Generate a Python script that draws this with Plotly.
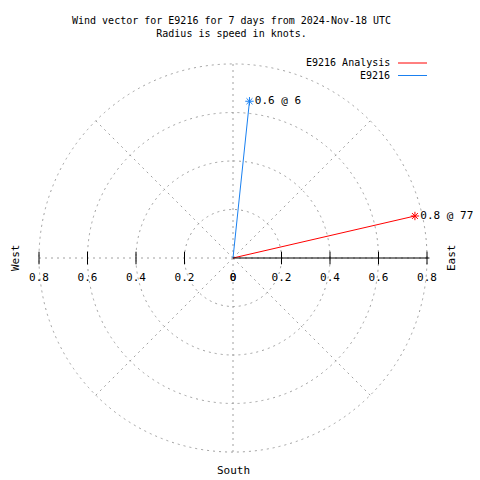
import plotly.graph_objects as go

# Data
series_names = ["E9216 Analysis", "E9216"]
speeds = [0.77, 0.65]          # knots
directions = [77, 6]           # degrees (compass, clockwise from north)
point_labels = ["0.8 @ 77", "0.6 @ 6"]
colors = ["#ff0000", "#1a80f0"]

radial_ticks = [0, 0.2, 0.4, 0.6, 0.8]
radial_tick_labels = ["0", "0.2", "0.4", "0.6", "0.8"]
r_max = 0.81

FONT = "DejaVu Sans Mono"
FS = 10
cx, cy = 233, 258
R = 194 * r_max / 0.8
W = H = 480

fig = go.Figure()

# vectors
for name, s, d, lab, c in zip(series_names, speeds, directions, point_labels, colors):
    fig.add_trace(go.Scatterpolar(
        r=[0, s], theta=[d, d], mode="lines", line=dict(color=c, width=1),
        name=name, showlegend=False, hoverinfo="skip"))
    fig.add_trace(go.Scatterpolar(
        r=[s], theta=[d], mode="markers+text", text=[lab],
        textposition="middle right",
        textfont=dict(family=FONT, size=FS + 1, color="black"),
        marker=dict(symbol="asterisk-open", size=7, color=c, line=dict(color=c, width=1)),
        showlegend=False, hoverinfo="skip"))

# tick marks east and west
tick_r = radial_ticks[1:]
for th in (90, 270):
    fig.add_trace(go.Scatterpolar(
        r=tick_r, theta=[th] * len(tick_r), mode="markers",
        marker=dict(symbol="line-ns-open", size=9, color="black", line=dict(color="black", width=1)),
        showlegend=False, hoverinfo="skip"))

# tick labels east and west
for th in (90, 270):
    fig.add_trace(go.Scatterpolar(
        r=radial_ticks, theta=[th] * len(radial_ticks), mode="text",
        text=["<br>" + t for t in radial_tick_labels], textposition="bottom center",
        textfont=dict(family=FONT, size=FS + 1, color="black"),
        showlegend=False, hoverinfo="skip"))

grid = dict(gridcolor="#a0a0a0", griddash="2px,4px", gridwidth=1)
fig.update_layout(
    width=W, height=H,
    margin=dict(l=0, r=0, t=0, b=0),
    paper_bgcolor="white", plot_bgcolor="white",
    showlegend=False,
    polar=dict(
        domain=dict(x=[(cx - R) / W, (cx + R) / W], y=[1 - (cy + R) / H, 1 - (cy - R) / H]),
        bgcolor="white",
        radialaxis=dict(range=[0, r_max], tickvals=[0.2, 0.4, 0.6, 0.8], showticklabels=False,
                        ticks="", showline=True, linecolor="black", linewidth=1, angle=0,
                        **grid),
        angularaxis=dict(rotation=90, direction="clockwise", tickvals=[0, 45, 90, 135, 180, 225, 270, 315],
                         showticklabels=False, ticks="", showline=False, **grid),
    ),
)

# title
fig.add_annotation(x=231 / W, y=1 - 13 / H, xref="paper", yref="paper", showarrow=False,
                   text="Wind vector for E9216 for 7 days from 2024-Nov-18 UTC<br>Radius is speed in knots.",
                   font=dict(family=FONT, size=FS, color="black"), yanchor="top", xanchor="center")

# legend (text right-aligned, sample line to the right)
for i, (name, c) in enumerate(zip(series_names, colors)):
    yy = 63 + 12.5 * i
    fig.add_annotation(x=392 / W, y=1 - yy / H, xref="paper", yref="paper", showarrow=False,
                       text=name, xanchor="right", yanchor="middle",
                       font=dict(family=FONT, size=FS, color="black"))
    fig.add_shape(type="line", xref="paper", yref="paper", x0=398 / W, x1=427 / W,
                  y0=1 - yy / H, y1=1 - yy / H, line=dict(color=c, width=1))

# direction labels
for txt, x, y, ang in [("West", 15, 258, -90), ("East", 451, 258, -90), ("South", 233, 470, 0)]:
    fig.add_annotation(x=x / W, y=1 - y / H, xref="paper", yref="paper", showarrow=False,
                       text=txt, textangle=ang, xanchor="center", yanchor="middle",
                       font=dict(family=FONT, size=FS + 1, color="black"))

fig.write_html("out.html", config={"displayModeBar": False},
               post_script="document.body.style.margin='0';document.body.style.overflow='hidden';")
